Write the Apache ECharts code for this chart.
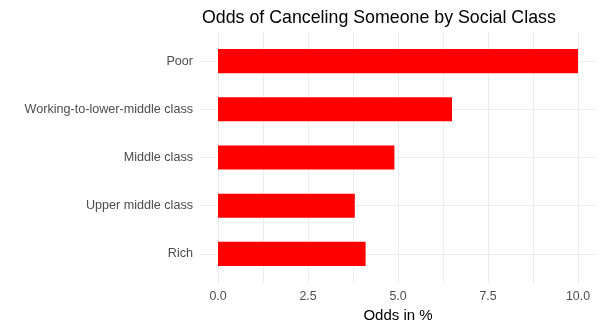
<!DOCTYPE html>
<html>
<head>
<meta charset="utf-8">
<style>
  html, body { margin: 0; padding: 0; background: #ffffff; }
  #chart { width: 604px; height: 328px; }
</style>
<script src="https://cdn.jsdelivr.net/npm/echarts@6/dist/echarts.min.js"></script>
</head>
<body>
<div id="chart"></div>
<script>
// Social classes, listed bottom to top as they appear on the y axis
const classes = ['Rich', 'Upper middle class', 'Middle class', 'Working-to-lower-middle class', 'Poor'];
// Odds of canceling someone, in percent
const odds = [4.1, 3.8, 4.9, 6.5, 10.0];
// Major and minor grid positions, and the labelled ticks on the x axis
const gridValues = [0, 1.25, 2.5, 3.75, 5, 6.25, 7.5, 8.75, 10];
const xTicks = [0, 2.5, 5, 7.5, 10];

const FONT = '"Liberation Sans", Arial, sans-serif';
const GRID_COLOR = '#EBEBEB';

const chart = echarts.init(document.getElementById('chart'), null, { renderer: 'canvas' });

chart.setOption({
  animation: false,
  backgroundColor: '#ffffff',
  title: {
    text: 'Odds of Canceling Someone by Social Class',
    left: 197,
    top: 4,
    textStyle: { fontFamily: FONT, fontSize: 17.8, fontWeight: 'normal', color: '#000000' }
  },
  grid: [
    // full panel: vertical grid lines, x tick labels and axis title
    { left: 200, right: 8, top: 32, bottom: 45 },
    // bar panel: categories spaced so the panel padding matches
    { left: 200, right: 8, top: 37, height: 241 }
  ],
  xAxis: [
    {
      gridIndex: 0,
      type: 'value',
      min: -0.5,
      max: 10.5,
      axisLine: { show: false },
      axisTick: { show: false, customValues: gridValues },
      splitLine: { show: true, lineStyle: { color: GRID_COLOR, width: 1 } },
      axisLabel: {
        customValues: xTicks,
        formatter: v => Number(v).toFixed(1),
        color: '#4D4D4D',
        fontFamily: FONT,
        fontSize: 12.4,
        margin: 8
      },
      name: 'Odds in %',
      nameLocation: 'middle',
      nameGap: 21,
      nameTextStyle: { fontFamily: FONT, fontSize: 15, color: '#000000', verticalAlign: 'top' }
    },
    {
      gridIndex: 1,
      type: 'value',
      min: -0.5,
      max: 10.5,
      show: false,
      splitLine: { show: false }
    }
  ],
  yAxis: [
    {
      gridIndex: 0,
      type: 'value',
      show: false,
      splitLine: { show: false }
    },
    {
      gridIndex: 1,
      type: 'category',
      data: classes,
      axisLine: { show: false },
      axisTick: { show: false },
      splitLine: { show: true, alignWithLabel: true, lineStyle: { color: GRID_COLOR, width: 1 } },
      axisLabel: {
        color: '#4D4D4D',
        fontFamily: FONT,
        fontSize: 12.6,
        margin: 7,
        padding: [3, 0, 0, 0]
      }
    }
  ],
  series: [
    {
      type: 'bar',
      xAxisIndex: 1,
      yAxisIndex: 1,
      data: odds,
      barWidth: '50%',
      itemStyle: { color: '#FF0000' }
    }
  ]
});
</script>
</body>
</html>
